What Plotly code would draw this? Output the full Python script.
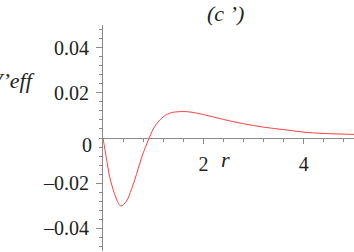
import plotly.graph_objects as go

# Curve samples
r_vals = [0.0, 0.067, 0.13, 0.2, 0.27, 0.354, 0.467, 0.567, 0.667, 0.767, 0.92,
          1.03, 1.17, 1.33, 1.57, 1.73, 2.0, 2.4, 2.8, 3.2, 3.6, 4.0, 4.4, 5.0]
v_vals = [0.0, -0.0088, -0.0169, -0.0227, -0.0271, -0.0301, -0.0279, -0.0227,
          -0.0161, -0.0088, 0.0, 0.0051, 0.0088, 0.011, 0.0117, 0.0115, 0.0104,
          0.0082, 0.0063, 0.0048, 0.0037, 0.0026, 0.002, 0.0016]

y_tickvals = [-0.04, -0.02, 0.02, 0.04]
y_ticktext = ["\u20130.04", "\u20130.02", "0.02", "0.04"]
x_tickvals = [2, 4]
x_ticktext = ["2", "4"]

FONT = "Liberation Serif, Times New Roman, DejaVu Serif, serif"
AXC = "#8a8a8a"

fig = go.Figure()
fig.add_trace(go.Scatter(x=r_vals, y=v_vals, mode="lines",
                         line=dict(color="#ff4040", width=1, shape="spline"),
                         hoverinfo="skip", showlegend=False))

fig.update_layout(
    width=354, height=252,
    margin=dict(l=103, r=0, t=25, b=1, autoexpand=False),
    paper_bgcolor="white", plot_bgcolor="white",
    font=dict(family=FONT, size=19, color="#222"),
    xaxis=dict(range=[0, 5], anchor="free", position=0.5, automargin=False,
               showline=True, linecolor=AXC, linewidth=1,
               showgrid=False, zeroline=False,
               tickvals=x_tickvals, ticktext=x_ticktext,
               ticks="outside", ticklen=5, tickcolor=AXC, tickwidth=1,
               ticklabelstandoff=3,
               minor=dict(dtick=0.4, tick0=0, ticks="outside", ticklen=3,
                          tickcolor=AXC, showgrid=False),
               tickfont=dict(family=FONT, size=20, color="#222")),
    yaxis=dict(range=[-0.05, 0.05], showline=True, linecolor=AXC, linewidth=1,
               automargin=False,
               showgrid=False, zeroline=False,
               tickvals=y_tickvals, ticktext=y_ticktext,
               ticks="outside", ticklen=6, tickcolor=AXC, tickwidth=1,
               ticklabelstandoff=3,
               minor=dict(dtick=0.004, tick0=0, ticks="outside", ticklen=3,
                          tickcolor=AXC, showgrid=False),
               tickfont=dict(family=FONT, size=20, color="#222")),
)

fig.add_annotation(text="0", x=-0.035, y=0.0, xref="paper", yref="y",
                   xanchor="right", yanchor="middle", yshift=-7, showarrow=False,
                   font=dict(family=FONT, size=20, color="#222"))
fig.add_annotation(text="<i>(c \u2019)</i>", x=0.49, y=1.051, xref="paper", yref="paper",
                   xanchor="center", yanchor="middle", showarrow=False,
                   font=dict(family=FONT, size=22, color="#222"))
fig.add_annotation(text="<i>r</i>", x=0.49, y=0.407, xref="paper", yref="paper",
                   xanchor="center", yanchor="middle", showarrow=False,
                   font=dict(family=FONT, size=22, color="#222"))
fig.add_annotation(text="<i>V\u2019eff</i>", x=-0.263, y=0.755, xref="paper", yref="paper",
                   xanchor="right", yanchor="middle", showarrow=False,
                   font=dict(family=FONT, size=22, color="#222"))

fig.write_html("out.html", config={"displayModeBar": False},
               post_script="document.body.style.margin='0';")
